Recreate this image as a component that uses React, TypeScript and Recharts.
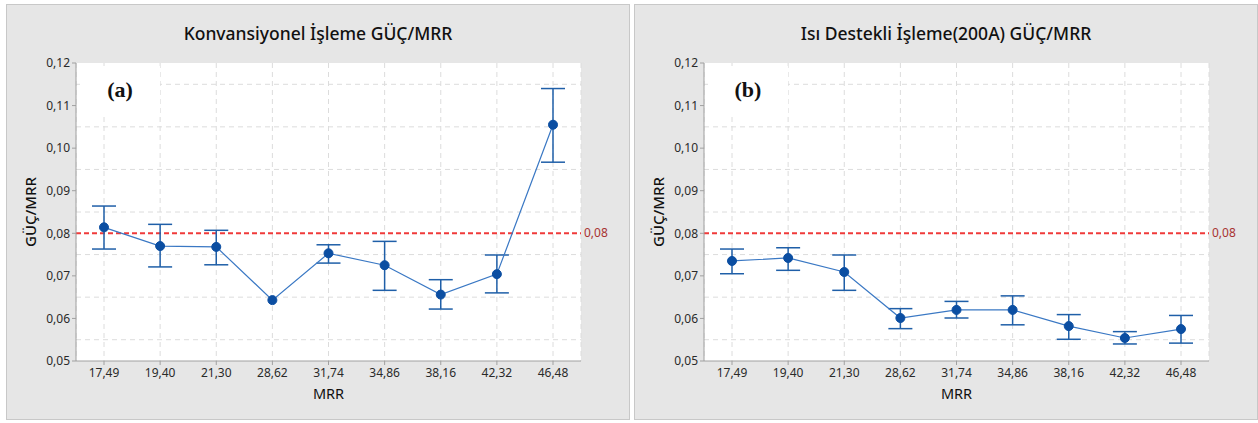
import {
  CartesianGrid,
  ErrorBar,
  Line,
  LineChart,
  ReferenceLine,
  XAxis,
  YAxis,
} from "recharts";

const MRR = ["17,49", "19,40", "21,30", "28,62", "31,74", "34,86", "38,16", "42,32", "46,48"];

// (a) Konvansiyonel
const MEAN_A = [0.0814, 0.077, 0.0768, 0.0643, 0.0753, 0.0725, 0.0656, 0.0704, 0.1055];
const LOW_A = [0.0763, 0.0721, 0.0726, null, 0.073, 0.0666, 0.0622, 0.066, 0.0967];
const HIGH_A = [0.0864, 0.0821, 0.0807, null, 0.0773, 0.0781, 0.0691, 0.0749, 0.114];

// (b) Isı destekli 200A
const MEAN_B = [0.0735, 0.0742, 0.0709, 0.0601, 0.062, 0.062, 0.0582, 0.0554, 0.0575];
const LOW_B = [0.0705, 0.0713, 0.0666, 0.0576, 0.0601, 0.0585, 0.0551, 0.054, 0.0542];
const HIGH_B = [0.0763, 0.0766, 0.0749, 0.0623, 0.064, 0.0653, 0.0609, 0.0569, 0.0607];

const Y_TICKS = [0.05, 0.06, 0.07, 0.08, 0.09, 0.1, 0.11, 0.12];
const GRID_Y = [0.055, 0.06, 0.065, 0.07, 0.075, 0.085, 0.09, 0.095, 0.1, 0.105, 0.11, 0.115];
const REF_VALUE = 0.08;

const FONT = "'Noto Sans', 'Open Sans', sans-serif";
const comma = (v: number) => v.toFixed(2).replace(".", ",");

function buildRows(means: number[], lows: (number | null)[], highs: (number | null)[]) {
  return MRR.map((label, i) => {
    const lo = lows[i];
    const hi = highs[i];
    return {
      mrr: label,
      mean: means[i],
      err: lo == null || hi == null ? null : [means[i] - lo, hi - means[i]],
    };
  });
}

interface PanelProps {
  left: number;
  title: string;
  tag: string;
  means: number[];
  lows: (number | null)[];
  highs: (number | null)[];
}

function RefLabel(props: any) {
  const vb = props.viewBox || {};
  return (
    <text x={vb.x + vb.width + 3} y={vb.y} dy={4} fontSize={12} fill="#a83232">
      {comma(REF_VALUE)}
    </text>
  );
}

function Panel({ left, title, tag, means, lows, highs }: PanelProps) {
  const rows = buildRows(means, lows, highs);
  return (
    <div
      style={{
        position: "absolute",
        left,
        top: 4,
        width: 624,
        height: 416,
        boxSizing: "border-box",
        border: "1px solid #c8c8c8",
        background: "#e6e6e6",
        fontFamily: FONT,
      }}
    >
      <LineChart
        width={622}
        height={414}
        data={rows}
        margin={{ top: 58, right: 48, bottom: 28, left: 9 }}
        style={{ fontFamily: FONT }}
      >
        <CartesianGrid
          fill="#fff"
          stroke="#dcdcdc"
          strokeDasharray="5 4"
          horizontalValues={GRID_Y}
        />
        <XAxis
          dataKey="mrr"
          height={30}
          tickSize={4}
          tickMargin={3}
          padding={{ left: 28, right: 28 }}
          stroke="#a0a0a0"
          tick={{ fontSize: 12, fill: "#2a2a2a" }}
          interval={0}
        />
        <XAxis xAxisId="top" orientation="top" dataKey="mrr" height={0} tick={false} stroke="#b0b0b0" />
        <YAxis
          width={60}
          domain={[0.05, 0.12]}
          ticks={Y_TICKS}
          tickFormatter={comma}
          tickSize={4}
          tickMargin={2}
          stroke="#a0a0a0"
          tick={{ fontSize: 12, fill: "#2a2a2a" }}
        />
        <YAxis yAxisId="r" orientation="right" width={0} domain={[0.05, 0.12]} tick={false} stroke="#b0b0b0" />
        <ReferenceLine
          y={REF_VALUE}
          stroke="#f03a3a"
          strokeDasharray="5 3"
          strokeWidth={2}
          label={<RefLabel />}
        />
        <Line
          dataKey="mean"
          stroke="#3a78c4"
          strokeWidth={1.2}
          dot={{ r: 4.5, fill: "#0b4ea2", stroke: "#0b4ea2", strokeWidth: 1 }}
          isAnimationActive={false}
        >
          <ErrorBar dataKey="err" width={12} stroke="#1f5fa8" strokeWidth={1.5} isAnimationActive={false} />
        </Line>
      </LineChart>

      <div
        style={{
          position: "absolute",
          left: 0,
          right: 0,
          top: 16,
          textAlign: "center",
          fontSize: 17.5,
          fontWeight: 500,
          color: "#111",
        }}
      >
        {title}
      </div>
      <div
        style={{
          position: "absolute",
          left: 23,
          top: 207,
          transform: "translate(-50%, -50%) rotate(-90deg)",
          fontSize: 15,
          fontWeight: 500,
          color: "#111",
          whiteSpace: "nowrap",
        }}
      >
        GÜÇ/MRR
      </div>
      <div
        style={{
          position: "absolute",
          left: 69,
          width: 505,
          top: 378,
          textAlign: "center",
          fontSize: 14.5,
          color: "#111",
        }}
      >
        MRR
      </div>
      <div
        style={{
          position: "absolute",
          left: 73,
          top: 61,
          width: 80,
          height: 47,
          background: "#fff",
          display: "flex",
          alignItems: "center",
          justifyContent: "center",
          fontFamily: "'Liberation Serif', 'Times New Roman', serif",
          fontWeight: "bold",
          fontSize: 22,
          color: "#111",
        }}
      >
        {tag}
      </div>
    </div>
  );
}

export default function App() {
  return (
    <div style={{ position: "relative", width: 1258, height: 423, background: "#fff" }}>
      <style>{"body{margin:0}"}</style>
      <Panel
        left={6}
        title="Konvansiyonel İşleme GÜÇ/MRR"
        tag="(a)"
        means={MEAN_A}
        lows={LOW_A}
        highs={HIGH_A}
      />
      <Panel
        left={634}
        title="Isı Destekli İşleme(200A) GÜÇ/MRR"
        tag="(b)"
        means={MEAN_B}
        lows={LOW_B}
        highs={HIGH_B}
      />
    </div>
  );
}
